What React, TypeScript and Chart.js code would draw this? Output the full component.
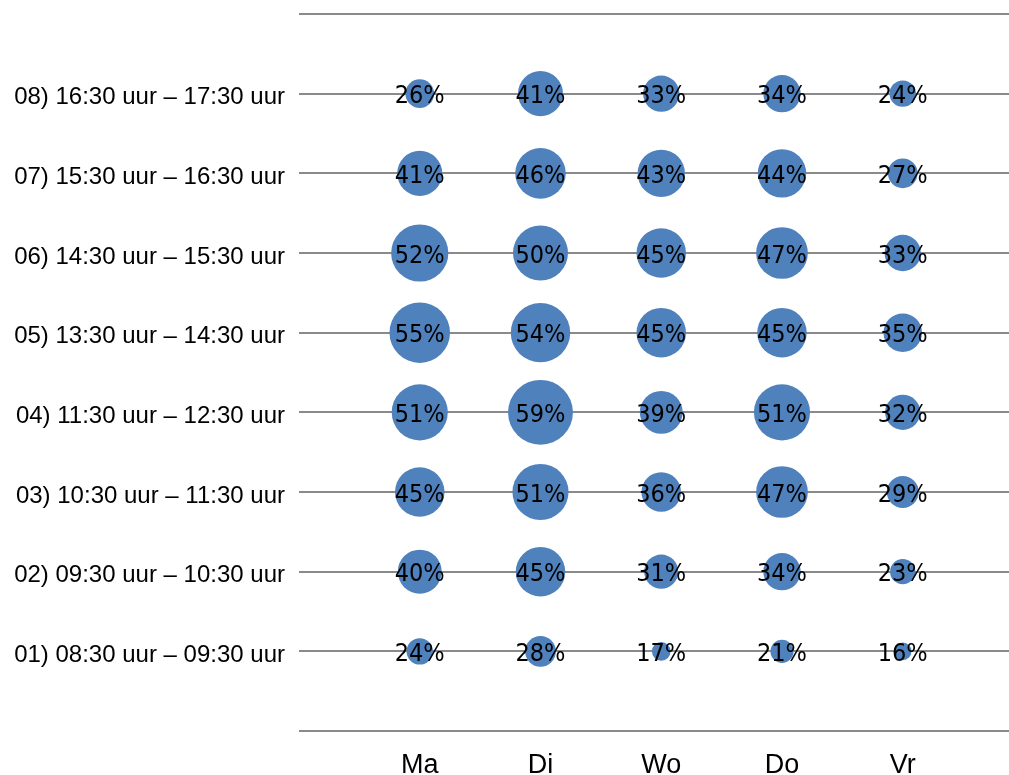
import React, { useEffect, useRef } from "react";
import { Chart, registerables } from "chart.js";

Chart.register(...registerables);

const days = ["Ma", "Di", "Wo", "Do", "Vr"];
const slots = [
  "01) 08:30 uur – 09:30 uur",
  "02) 09:30 uur – 10:30 uur",
  "03) 10:30 uur – 11:30 uur",
  "04) 11:30 uur – 12:30 uur",
  "05) 13:30 uur – 14:30 uur",
  "06) 14:30 uur – 15:30 uur",
  "07) 15:30 uur – 16:30 uur",
  "08) 16:30 uur – 17:30 uur",
];
// values per day, slot 01 .. 08 (percent)
const ma = [24, 40, 45, 51, 55, 52, 41, 26];
const di = [28, 45, 51, 59, 54, 50, 46, 41];
const wo = [17, 31, 36, 39, 45, 45, 43, 33];
const dO = [21, 34, 47, 51, 45, 47, 44, 34];
const vr = [16, 23, 29, 32, 35, 33, 27, 24];
const series = [ma, di, wo, dO, vr];

const BLUE = "#4F81BD";
const GRID = "#8a8a8a";

const labelPlugin = {
  id: "bubbleLabels",
  afterDatasetsDraw(chart: any) {
    const ctx = chart.ctx;
    ctx.save();
    ctx.font = '25px "Liberation Sans Narrow", "DejaVu Sans Condensed", sans-serif';
    ctx.fillStyle = "#000";
    ctx.textAlign = "center";
    ctx.textBaseline = "middle";
    chart.data.datasets.forEach((ds: any, i: number) => {
      const meta = chart.getDatasetMeta(i);
      meta.data.forEach((el: any, j: number) => {
        const v = ds.data[j].v;
        ctx.fillText(v + "%", el.x, el.y + 3);
      });
    });
    ctx.restore();
  },
};

export default function App() {
  const ref = useRef<HTMLCanvasElement>(null);
  useEffect(() => {
    const points: any[] = [];
    series.forEach((vals, d) => {
      vals.forEach((v, s) => points.push({ x: d + 1, y: s + 1, v }));
    });
    const chart = new Chart(ref.current!, {
      type: "bubble",
      data: {
        datasets: [
          {
            data: points,
            backgroundColor: BLUE,
            borderColor: BLUE,
            borderWidth: 0,
            radius: (c: any) => (c.raw ? c.raw.v * 0.55 : 0),
            hoverRadius: 0,
          } as any,
        ],
      },
      options: {
        animation: false,
        responsive: true,
        maintainAspectRatio: false,
        clip: false as any,
        layout: { autoPadding: false, padding: { top: 14, right: 0, left: 0, bottom: 0 } },
        plugins: { legend: { display: false }, tooltip: { enabled: false } },
        scales: {
          x: {
            type: "linear",
            min: 0,
            max: 5.88,
            afterBuildTicks: (axis: any) => {
              axis.ticks = days.map((_, i) => ({ value: i + 1 }));
            },
            afterFit: (axis: any) => {
              axis.height = 44;
              axis.paddingLeft = 0;
              axis.paddingRight = 0;
            },
            grid: { display: false, drawTicks: false },
            border: { display: false },
            ticks: {
              autoSkip: false,
              maxRotation: 0,
              padding: 18,
              color: "#000",
              font: { family: '"Liberation Sans", Arial, sans-serif', size: 27 },
              callback: (v: any) => days[Number(v) - 1] ?? "",
            },
          },
          y: {
            type: "linear",
            min: 0,
            max: 9,
            afterBuildTicks: (axis: any) => {
              const t: any[] = [];
              for (let i = 0; i <= 9; i++) t.push({ value: i });
              axis.ticks = t;
            },
            afterFit: (axis: any) => {
              axis.width = 299;
              axis.paddingTop = 0;
              axis.paddingBottom = 0;
            },
            grid: { color: GRID, lineWidth: 2, drawTicks: false },
            border: { display: false },
            ticks: {
              autoSkip: false,
              padding: 14,
              labelOffset: 4,
              color: "#000",
              font: { family: '"Liberation Sans", Arial, sans-serif', size: 24 },
              callback: (v: any) => slots[Number(v) - 1] ?? "",
            },
          },
        },
      },
      plugins: [labelPlugin],
    });
    return () => chart.destroy();
  }, []);
  return (
    <div style={{ position: "absolute", left: 0, top: 0, width: 1009, height: 775, background: "#fff" }}>
      <canvas ref={ref} />
    </div>
  );
}
